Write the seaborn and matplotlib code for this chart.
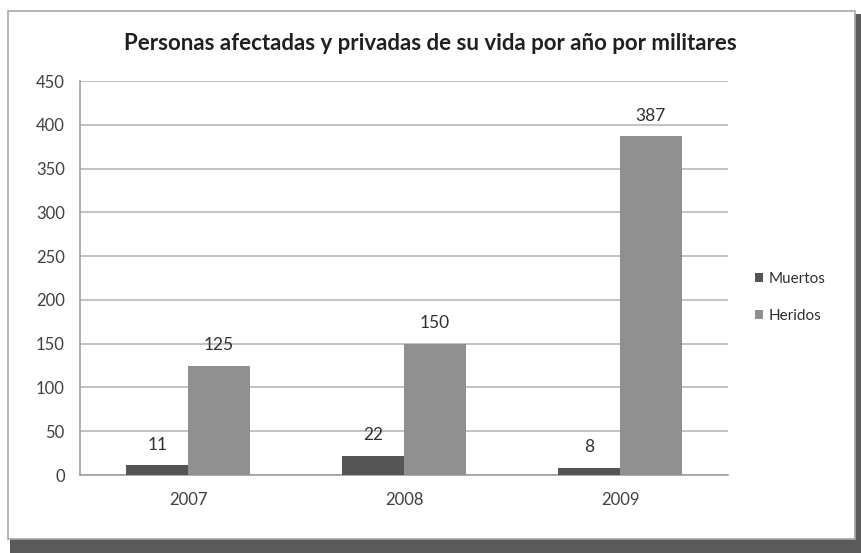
import matplotlib
matplotlib.use("Agg")
import matplotlib.pyplot as plt
import matplotlib.patches as mpatches
import seaborn as sns
import pandas as pd

years = ["2007", "2008", "2009"]
muertos = [11, 22, 8]
heridos = [125, 150, 387]
series_names = ["Muertos", "Heridos"]
title = "Personas afectadas y privadas de su vida por año por militares"
yticks = [0, 50, 100, 150, 200, 250, 300, 350, 400, 450]

df = pd.DataFrame({
    "year": years * 2,
    "value": muertos + heridos,
    "serie": [series_names[0]] * 3 + [series_names[1]] * 3,
})

sns.set_theme(style="white")
plt.rcParams["font.family"] = ["Lato", "DejaVu Sans"]

fig = plt.figure(figsize=(8.61, 5.53), dpi=100)
fig.patch.set_facecolor("white")

# frame with shadow
fig.patches.append(mpatches.Rectangle((0.012, 0.0), 0.988, 0.975, transform=fig.transFigure,
                                      facecolor="#5a5a5a", edgecolor="none", zorder=-3))
fig.patches.append(mpatches.Rectangle((0.009, 0.025), 0.984, 0.955, transform=fig.transFigure,
                                      facecolor="white", edgecolor="#a8a8a8", linewidth=1.2, zorder=-2))

ax = fig.add_axes([80 / 861, 1 - 475 / 553, 648 / 861, 394 / 553])
ax.set_facecolor("none")
palette = {"Muertos": "#555555", "Heridos": "#909090"}
sns.barplot(data=df, x="year", y="value", hue="serie", palette=palette, width=0.57,
            saturation=1, ax=ax, legend=True, zorder=3, linewidth=0)

ax.set_ylim(0, 450)
ax.set_yticks(yticks)
ax.set_yticklabels([str(t) for t in yticks], color="#404040", fontsize=12)
ax.tick_params(axis="x", colors="#404040", labelsize=12, length=0, pad=12)
ax.tick_params(axis="y", length=5, color="#a0a0a0", pad=6)
ax.yaxis.grid(True, color="#bdbdbd", linewidth=1.3, zorder=0)
ax.set_axisbelow(True)
ax.set_xlabel("")
ax.set_ylabel("")
for s in ["top", "right"]:
    ax.spines[s].set_visible(False)
for s in ["left", "bottom"]:
    ax.spines[s].set_color("#a0a0a0")
    ax.spines[s].set_linewidth(1.2)

for cont in ax.containers:
    ax.bar_label(cont, padding=9, fontsize=12.5, color="#303030")

leg = ax.legend(loc="center left", bbox_to_anchor=(1.02, 0.45), frameon=False,
                fontsize=11, handlelength=0.55, handleheight=0.55, handletextpad=0.35,
                labelspacing=1.5)
for t in leg.get_texts():
    t.set_color("#303030")

fig.text(0.5, 1 - 44 / 553, title, ha="center", va="center", fontsize=16,
         fontweight="bold", color="#202020")

fig.savefig("out.png", dpi=100)
